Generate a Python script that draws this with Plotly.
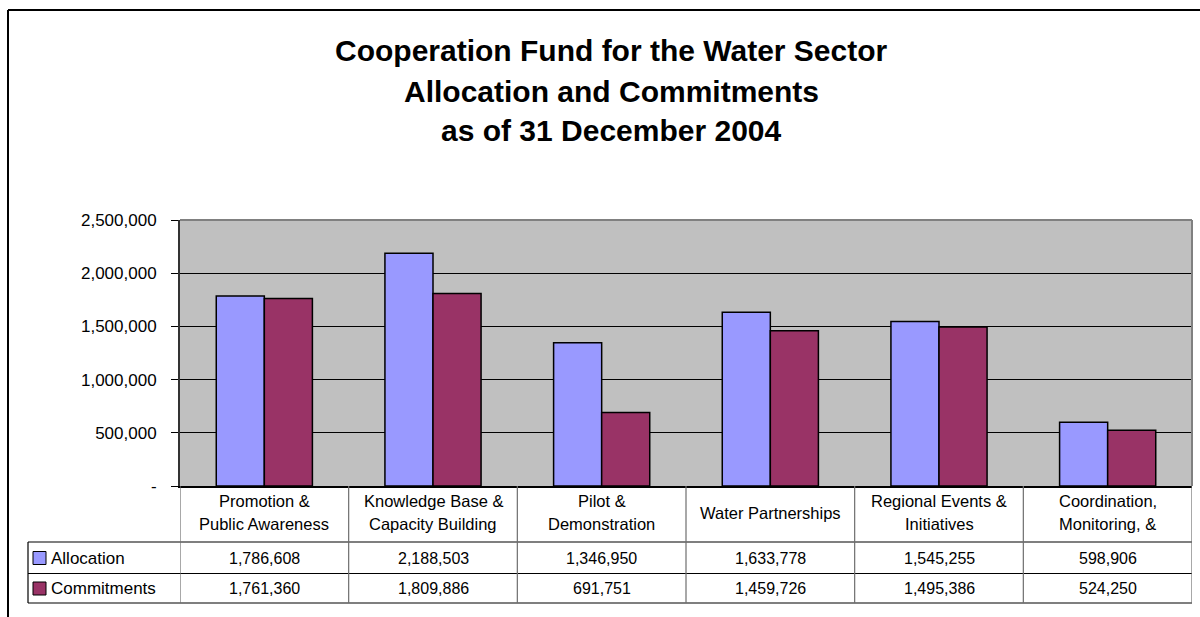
import plotly.graph_objects as go

# ---------------- data ----------------
categories = [
    "Promotion &\nPublic Awareness",
    "Knowledge Base &\nCapacity Building",
    "Pilot &\nDemonstration",
    "Water Partnerships",
    "Regional Events &\nInitiatives",
    "Coordination,\nMonitoring, &",
]
allocation = [1786608, 2188503, 1346950, 1633778, 1545255, 598906]
commitments = [1761360, 1809886, 691751, 1459726, 1495386, 524250]
series_names = ["Allocation", "Commitments"]
series_colors = ["#9999FF", "#993366"]
y_tickvals = [0, 500000, 1000000, 1500000, 2000000, 2500000]
y_ticktext = ["-", "500,000", "1,000,000", "1,500,000", "2,000,000", "2,500,000"]
title_lines = [
    "Cooperation Fund for the Water Sector",
    "Allocation and Commitments",
    "as of 31 December 2004",
]

W, H = 1200, 617
FONT = "Liberation Sans, Arial, sans-serif"


def px(x):
    return x / W


def py(y):
    return 1 - y / H


x_idx = list(range(len(categories)))

fig = go.Figure()
for name, vals, col in zip(series_names, [allocation, commitments], series_colors):
    fig.add_trace(go.Bar(
        x=x_idx, y=vals, name=name,
        marker=dict(color=col, line=dict(color="black", width=1.5)),
        showlegend=False,
    ))

plot_left, plot_right, plot_top, plot_bottom = 180, 1192, 220, 486

fig.update_layout(
    width=W, height=H,
    autosize=False,
    margin=dict(l=0, r=0, t=0, b=0, pad=0, autoexpand=False),
    paper_bgcolor="white",
    plot_bgcolor="#C0C0C0",
    barmode="group",
    bargap=0.43,
    bargroupgap=0,
    font=dict(family=FONT, color="black"),
    xaxis=dict(
        domain=[px(plot_left), px(plot_right)],
        range=[-0.5, len(categories) - 0.5],
        showticklabels=False, showgrid=False, zeroline=False,
        showline=True, linecolor="black", linewidth=1.5,
        fixedrange=True, automargin=False,
    ),
    yaxis=dict(
        domain=[py(plot_bottom), py(plot_top)],
        range=[0, 2500000],
        tickvals=y_tickvals, ticktext=y_ticktext,
        ticks="outside", ticklen=7, tickcolor="black", tickwidth=1,
        ticklabelstandoff=11,
        tickfont=dict(size=17, family=FONT, color="black"),
        showgrid=True, gridcolor="black", gridwidth=1,
        zeroline=False,
        showline=True, linecolor="#333333", linewidth=2,
        fixedrange=True, automargin=False,
    ),
)

shapes = []
# plot area border (top & right), gray
shapes.append(dict(type="line", xref="paper", yref="paper",
                   x0=px(plot_left), x1=px(plot_right), y0=py(plot_top), y1=py(plot_top),
                   line=dict(color="#808080", width=2)))
shapes.append(dict(type="line", xref="paper", yref="paper",
                   x0=px(plot_right), x1=px(plot_right), y0=py(plot_top), y1=py(plot_bottom),
                   line=dict(color="#808080", width=2)))

# outer chart frame
shapes.append(dict(type="line", xref="paper", yref="paper",
                   x0=px(8), x1=1, y0=py(10), y1=py(10),
                   line=dict(color="black", width=2)))
shapes.append(dict(type="line", xref="paper", yref="paper",
                   x0=px(8), x1=px(8), y0=py(10), y1=0,
                   line=dict(color="black", width=2)))

# data table
tbl_left = 28
row_lines = [542, 573.5, 603]
row_centers = [558, 588.5]
header_top = plot_bottom
for yl in row_lines:
    shapes.append(dict(type="line", xref="paper", yref="paper",
                       x0=px(tbl_left), x1=px(plot_right), y0=py(yl), y1=py(yl),
                       line=dict(color="black", width=1.2)))
shapes.append(dict(type="line", xref="paper", yref="paper",
                   x0=px(tbl_left), x1=px(tbl_left), y0=py(row_lines[0]), y1=py(row_lines[-1]),
                   line=dict(color="black", width=1.2)))
for i in range(len(categories) + 1):
    shapes.append(dict(type="line", xref="x", yref="paper",
                       x0=i - 0.5, x1=i - 0.5, y0=py(header_top), y1=py(row_lines[-1]),
                       line=dict(color="#6e6e6e", width=1.2)))

annotations = []
# title
title_y = [50, 91, 131]
for t, yy in zip(title_lines, title_y):
    annotations.append(dict(text=t, xref="paper", yref="paper", x=px(611), y=py(yy),
                            xanchor="center", yanchor="middle", showarrow=False,
                            font=dict(size=30, family=FONT, color="black", weight="bold")))

# category header cells
for i, cat in enumerate(categories):
    lines = cat.split("\n")
    if len(lines) == 1:
        ys = [513]
    else:
        ys = [501, 524]
    for ln, yy in zip(lines, ys):
        annotations.append(dict(text=ln, xref="x", yref="paper", x=i, y=py(yy),
                                xanchor="center", yanchor="middle", showarrow=False,
                                font=dict(size=16.5, family=FONT, color="black")))

# value cells & legend keys
for r, (name, vals, col) in enumerate(zip(series_names, [allocation, commitments], series_colors)):
    yc = row_centers[r]
    for i, v in enumerate(vals):
        annotations.append(dict(text=f"{v:,}", xref="x", yref="paper", x=i, y=py(yc),
                                xanchor="center", yanchor="middle", showarrow=False,
                                font=dict(size=16, family=FONT, color="black")))
    shapes.append(dict(type="rect", xref="paper", yref="paper",
                       x0=px(33), x1=px(46), y0=py(yc - 6.5), y1=py(yc + 6.5),
                       fillcolor=col, line=dict(color="black", width=1)))
    annotations.append(dict(text=name, xref="paper", yref="paper", x=px(49), y=py(yc),
                            xanchor="left", yanchor="middle", showarrow=False,
                            font=dict(size=17, family=FONT, color="black")))

fig.update_layout(shapes=shapes, annotations=annotations)

fig.write_html(
    "out.html",
    config={"displayModeBar": False, "staticPlot": True},
    post_script="document.body.style.margin='0';document.body.style.overflow='hidden';",
)
